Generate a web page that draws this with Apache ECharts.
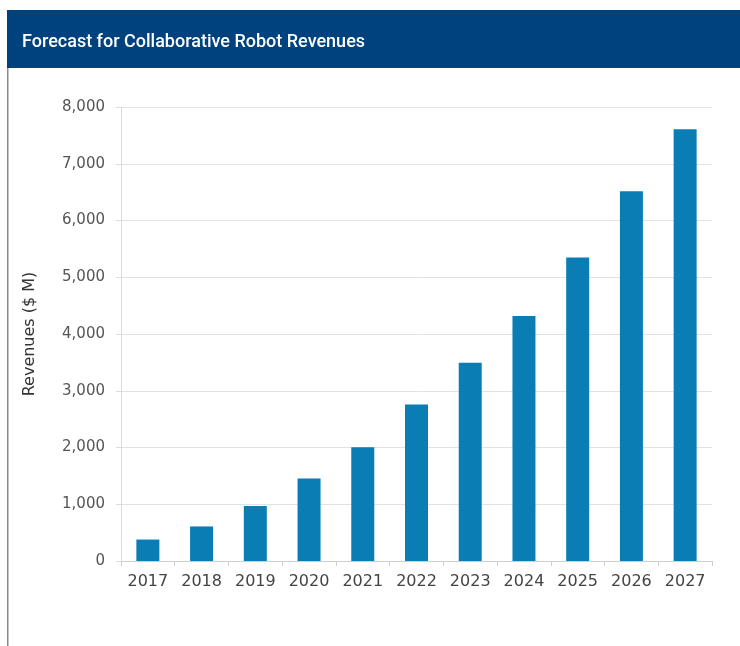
<!DOCTYPE html>
<html>
<head>
<meta charset="utf-8">
<script src="https://cdn.jsdelivr.net/npm/echarts@6/dist/echarts.min.js"></script>
<style>html,body{margin:0;padding:0;background:#fff;}#c{width:740px;height:646px;}</style>
</head>
<body>
<div id="c"></div>
<script>
const titleText = 'Forecast for Collaborative Robot Revenues';
const yAxisName = 'Revenues ($ M)';
const years = ['2017','2018','2019','2020','2021','2022','2023','2024','2025','2026','2027'];
const revenues = [378, 609, 969, 1453, 2003, 2759, 3492, 4319, 5347, 6517, 7610];

const chart = echarts.init(document.getElementById('c'), null, {renderer: 'canvas'});
chart.setOption({
  backgroundColor: '#ffffff',
  animation: false,
  graphic: [
    {type: 'rect', shape: {x: 7, y: 10, width: 733, height: 58}, style: {fill: '#00427e'}, z: 0},
    {type: 'rect', shape: {x: 7, y: 68, width: 1.5, height: 578}, style: {fill: '#8a8a8a'}, z: 0}
  ],
  title: {
    text: titleText,
    left: 17, top: 28,
    textStyle: {color: '#ffffff', fontSize: 18, fontWeight: 500, fontFamily: 'Roboto, sans-serif'}
  },
  grid: {left: 121, right: 28, top: 107, bottom: 85, containLabel: false},
  xAxis: {
    type: 'category',
    data: years,
    boundaryGap: true,
    axisLine: {show: true, lineStyle: {color: '#cfcfcf'}},
    axisTick: {show: true, alignWithLabel: false, length: 5, lineStyle: {color: '#cfcfcf'}},
    axisLabel: {color: '#444', fontSize: 16, margin: 13, fontFamily: '"DejaVu Sans", sans-serif'}
  },
  yAxis: {
    type: 'value',
    min: 0, max: 8000, interval: 1000,
    name: yAxisName,
    nameLocation: 'middle',
    nameGap: 83,
    nameRotate: 90,
    nameTextStyle: {color: '#333', fontSize: 16, fontFamily: '"DejaVu Sans", sans-serif'},
    axisLine: {show: true, lineStyle: {color: '#dcdcdc'}},
    axisTick: {show: true, length: 5, lineStyle: {color: '#dcdcdc'}},
    axisLabel: {color: '#555', fontSize: 15, margin: 16, fontFamily: '"DejaVu Sans", sans-serif',
      formatter: v => v.toLocaleString('en-US')},
    splitLine: {show: true, lineStyle: {color: '#e2e2e2'}}
  },
  series: [{
    type: 'bar',
    data: revenues,
    barWidth: 23,
    itemStyle: {color: '#0a7db5'}
  }]
});
</script>
</body>
</html>
